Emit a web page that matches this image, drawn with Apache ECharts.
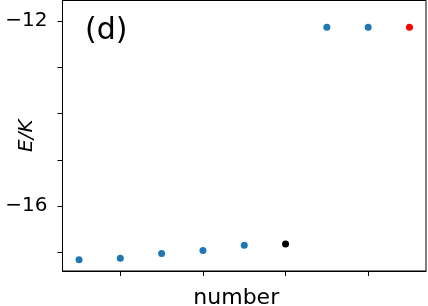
<!DOCTYPE html>
<html>
<head>
<meta charset="utf-8" />
<style>html,body{margin:0;padding:0;background:#fff}#chart{width:428px;height:306px}</style>
<script src="https://cdn.jsdelivr.net/npm/echarts@6.0.0/dist/echarts.min.js"></script>
</head>
<body>
<div id="chart"></div>
<script>
// 读出来的数据
const numbers = [1, 2, 3, 4, 5, 6, 7, 8, 9];
const energies = [-17.16, -17.13, -17.03, -16.96, -16.85, -16.82, -12.13, -12.13, -12.13];
const blackNumber = 6;   // 黑点
const redNumber = 9;     // 红点
const yTicks = [-17, -16, -15, -14, -13, -12];
const yLabels = [-16, -12];
const xTicks = [2, 4, 6, 8];

const pts = numbers.map((n, i) => [n, energies[i]]);
const bluePts = pts.filter((p) => p[0] !== blackNumber && p[0] !== redNumber);
const blackPts = pts.filter((p) => p[0] === blackNumber);
const redPts = pts.filter((p) => p[0] === redNumber);

const font = "DejaVu Sans";
const chart = echarts.init(document.getElementById("chart"), null, { renderer: "canvas" });
chart.setOption({
  animation: false,
  title: {
    text: "(d)", left: 80, top: 11,
    textStyle: { fontFamily: font, fontSize: 30, fontWeight: "normal", color: "#000" },
  },
  grid: {
    left: 62.5, right: 2, top: 0.5, bottom: 35, containLabel: false, outerBoundsMode: "none",
    show: true, borderColor: "#000", borderWidth: 1,
  },
  xAxis: {
    type: "value", min: 0.6, max: 9.4,
    name: "number", nameLocation: "middle", nameGap: 16, nameMoveOverlap: false,
    nameTextStyle: { fontFamily: font, fontSize: 22, color: "#000", padding: [0, 16, 0, 0], verticalAlign: "top" },
    axisLine: { show: true, lineStyle: { color: "#000", width: 1 } },
    axisTick: { show: true, length: 5, customValues: xTicks, lineStyle: { color: "#000" } },
    axisLabel: { show: false },
    splitLine: { show: false },
  },
  yAxis: {
    type: "value", min: -17.406, max: -11.553,
    name: "E/K", nameLocation: "middle", nameGap: 26, nameRotate: 90, nameMoveOverlap: false,
    nameTextStyle: { fontFamily: font, fontSize: 20, fontStyle: "italic", color: "#000" },
    axisLine: { show: true, lineStyle: { color: "#000", width: 1 } },
    axisTick: { show: true, length: 5, customValues: yTicks, lineStyle: { color: "#000" } },
    axisLabel: {
      customValues: yLabels, margin: 15, fontFamily: font, fontSize: 20, color: "#000",
      formatter: (v) => String(v).replace("-", "\u2212"),
    },
    splitLine: { show: false },
  },
  series: [
    { type: "scatter", data: bluePts, symbolSize: 7, itemStyle: { color: "#1f77b4", opacity: 1 } },
    { type: "scatter", data: blackPts, symbolSize: 7, itemStyle: { color: "#000000", opacity: 1 } },
    { type: "scatter", data: redPts, symbolSize: 7, itemStyle: { color: "#ff0000", opacity: 1 } },
  ],
});
</script>
</body>
</html>
